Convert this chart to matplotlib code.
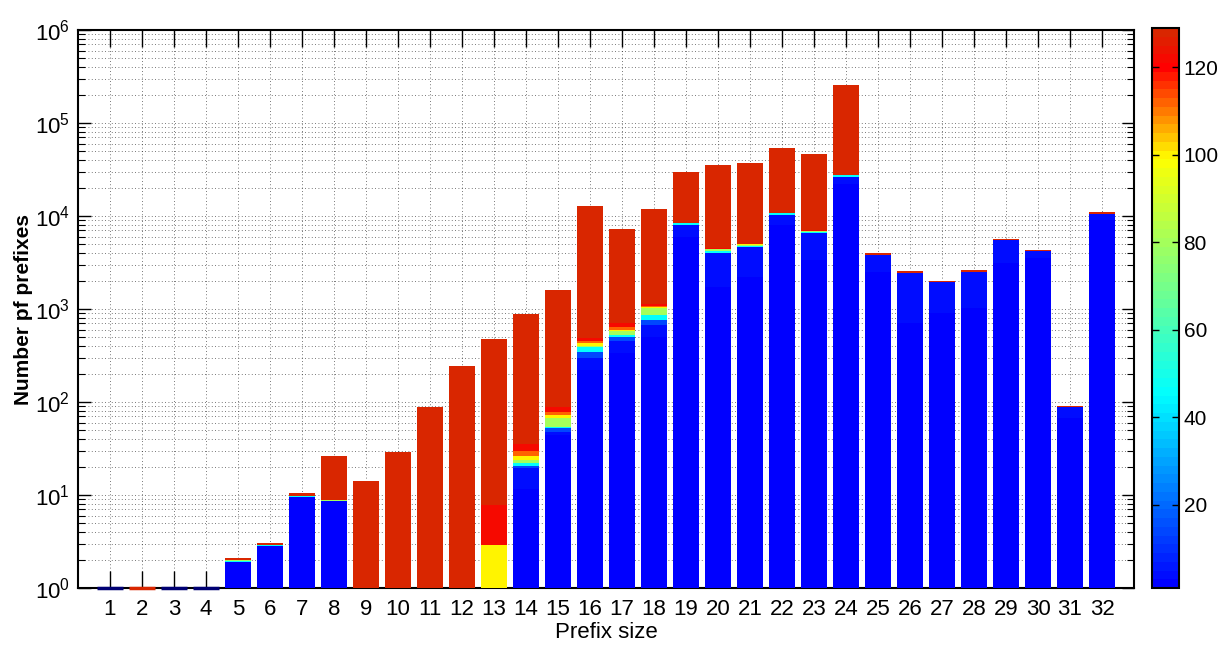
import numpy as np
import matplotlib
matplotlib.use("Agg")
import matplotlib.pyplot as plt
from matplotlib.colors import LinearSegmentedColormap, ListedColormap, Normalize
from matplotlib.ticker import FixedLocator, NullFormatter

plt.rcParams['font.family'] = ['Liberation Sans', 'DejaVu Sans']
plt.rcParams['mathtext.fontset'] = 'custom'
plt.rcParams['mathtext.rm'] = 'Liberation Sans'
plt.rcParams['mathtext.it'] = 'Liberation Sans'
plt.rcParams['mathtext.bf'] = 'Liberation Sans:bold'

# ---------------- data ----------------
prefix_sizes = list(range(1, 33))

# colour index of each stacked layer (colour scale 1..129)
layer_levels = [1, 4, 14, 45, 80, 100, 112, 122, 128]

# cumulative top of each layer for prefix sizes 1..32
layer1 = [1, 1, 1, 1, 1.92, 2.83, 9.5, 8.7, 1, 1, 1, 1, 1, 11.6, 44, 221,
          334, 504, 6000, 1740, 2230, 8000, 3360, 22000, 2520, 700, 900, 1020, 3100, 3510, 66.7, 9000]
layer2 = [1, 1, 1, 1, 1.92, 2.83, 9.5, 8.7, 1, 1, 1, 1, 1, 19.4, 48, 300,
          450, 680, 8000, 3970, 4680, 10250, 6520, 26500, 3820, 2450, 1930, 2520, 5550, 4200, 88, 10400]
layer3 = [1, 1, 1, 1, 1.92, 2.83, 9.5, 8.7, 1, 1, 1, 1, 1, 20.7, 52, 345,
          504, 762, 8000, 3970, 4680, 10250, 6520, 26500, 3820, 2450, 1930, 2520, 5550, 4200, 88, 10400]
layer4 = [1, 1, 1, 1, 1.96, 2.88, 9.7, 8.7, 1, 1, 1, 1, 1, 21.9, 54.3, 394,
          530, 861, 8340, 4200, 4800, 10700, 6750, 27600, 3820, 2450, 1930, 2520, 5550, 4200, 88, 10400]
layer5 = [1, 1, 1, 1, 1.98, 2.90, 9.8, 8.8, 1, 1, 1, 1, 1, 23.8, 66.7, 405,
          585, 1017, 8340, 4380, 4900, 10700, 6900, 27600, 3820, 2450, 1930, 2520, 5550, 4200, 88, 10400]
layer6 = [1, 1, 1, 1, 1.98, 2.90, 9.8, 8.8, 1, 1, 1, 1, 2.9, 26.3, 72.5, 427,
          600, 1050, 8340, 4450, 5000, 10700, 6900, 27600, 3820, 2450, 1930, 2520, 5550, 4200, 88, 10400]
layer7 = [1, 1, 1, 1, 1.98, 2.90, 9.8, 8.8, 1, 1, 1, 1, 2.9, 29.9, 78.7, 450,
          640, 1080, 8340, 4450, 5000, 10700, 6900, 27600, 3820, 2450, 1930, 2520, 5550, 4200, 88, 10400]
layer8 = [1, 1, 1, 1, 1.98, 2.90, 9.8, 8.8, 1, 1, 1, 1, 7.8, 35.4, 89, 484,
          702, 1132, 8400, 4500, 5050, 10900, 7070, 27800, 3820, 2450, 1930, 2520, 5550, 4200, 88, 10400]
totals = [1, 1, 1, 1, 2.08, 3.05, 10.4, 26.3, 14, 29, 88, 244, 476, 877, 1600, 12900,
          7190, 11800, 29700, 35300, 37400, 54300, 46800, 256000, 3970, 2540, 2000, 2600, 5700, 4350, 91, 11000]

# prefix sizes whose whole count is 1 (drawn as a flat line) and their colour index
flat_prefixes = [1, 2, 3, 4]
flat_levels = [1, 128, 1, 1]

y_decades = [1, 10, 100, 1000, 10000, 100000, 1000000]
cbar_ticks = [20, 40, 60, 80, 100, 120]
cmin, cmax = 1, 129

# ---------------- colormap ----------------
anchors = [(0.0, (0.0, 0.0, 1.0)),
           ((45 - cmin) / (cmax - cmin), (0.0, 1.0, 1.0)),
           ((100 - cmin) / (cmax - cmin), (1.0, 1.0, 0.0)),
           ((121 - cmin) / (cmax - cmin), (1.0, 0.0, 0.0)),
           (1.0, (0.85, 0.15, 0.0))]
base = LinearSegmentedColormap.from_list("jetlike", anchors)
cmap = ListedColormap(base(np.linspace(0, 1, 64)))
norm = Normalize(vmin=cmin, vmax=cmax)

# ---------------- figure ----------------
fig = plt.figure(figsize=(12.2, 6.53), dpi=100)
ax = fig.add_axes([0.0639, 0.0995, 0.8656, 0.8545])
cax = fig.add_axes([0.9445, 0.0995, 0.0222, 0.8575])

layers = [layer1, layer2, layer3, layer4, layer5, layer6, layer7, layer8, totals]
x = np.array(prefix_sizes, dtype=float)
bottom = np.ones(len(x))
for lev, tops in zip(layer_levels, layers):
    tops = np.array(tops, dtype=float)
    h = tops - bottom
    mask = h > 0
    if mask.any():
        ax.bar(x[mask], h[mask], bottom=bottom[mask], width=0.8,
               color=cmap(norm(lev)), linewidth=0, zorder=3)
    bottom = np.maximum(bottom, tops)

for p, lev in zip(flat_prefixes, flat_levels):
    c = np.array(cmap(norm(lev)))
    if lev < 64:
        c[:3] = c[:3] * 0.45
    ax.plot([p - 0.4, p + 0.4], [1, 1], color=c, lw=2.5,
            solid_capstyle='butt', clip_on=False, zorder=4)

ax.set_yscale('log')
ax.set_ylim(1, 1e6)
ax.set_xlim(0, 33)
ax.set_xticks(prefix_sizes)
ax.set_xticklabels([str(p) for p in prefix_sizes])
ax.set_yticks(y_decades)
ax.set_yticklabels([r'$\mathregular{10^{%d}}$' % int(round(np.log10(v))) for v in y_decades])
minor = [m * d for d in y_decades[:-1] for m in range(2, 10)]
ax.yaxis.set_minor_locator(FixedLocator(minor))
ax.yaxis.set_minor_formatter(NullFormatter())

ax.set_axisbelow(True)
ax.grid(True, which='major', axis='both', linestyle=(0, (1, 3)), color='black', linewidth=0.6, alpha=0.7)
ax.grid(True, which='minor', axis='y', linestyle=(0, (1, 3)), color='black', linewidth=0.6, alpha=0.7)

ax.tick_params(axis='x', which='major', direction='in', length=12, width=1, top=True,
               labelsize=16, pad=8)
ax.tick_params(axis='y', which='major', direction='in', length=9, width=1, right=True,
               labelsize=16, pad=6)
ax.tick_params(axis='y', which='minor', direction='in', length=5, width=0.8, right=True)
for s in ax.spines.values():
    s.set_linewidth(1.5)

ax.set_xlabel('Prefix size', fontsize=16, labelpad=1)
ax.set_ylabel('Number pf prefixes', fontsize=15, fontweight='bold', labelpad=1)

sm = plt.cm.ScalarMappable(norm=norm, cmap=cmap)
cb = fig.colorbar(sm, cax=cax, ticks=cbar_ticks)
cb.outline.set_linewidth(1.5)
cax.tick_params(direction='in', length=5, width=1, left=True, right=True, labelsize=15, pad=3)

fig.savefig('out.png', dpi=100)
